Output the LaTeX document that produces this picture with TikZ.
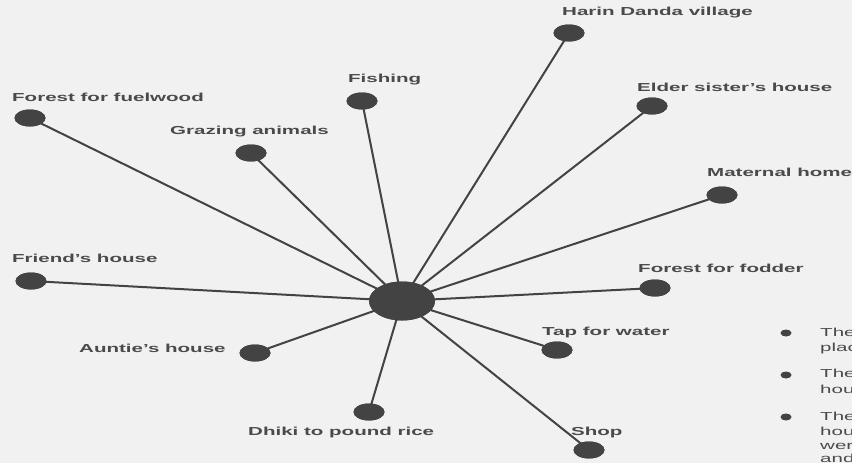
\documentclass[tikz,border=0pt]{standalone}
\usepackage{fontspec}
\setmainfont{Liberation Sans}
\usetikzlibrary{shapes.geometric}
\definecolor{bg}{HTML}{F1F1F1}
\definecolor{ink}{HTML}{434343}
\definecolor{txt}{HTML}{4A4A4A}
\tikzset{
  dot/.style={ellipse,fill=ink,draw=none,minimum width=31pt,minimum height=17pt,inner sep=0pt},
  hub/.style={ellipse,fill=ink,draw=none,minimum width=66pt,minimum height=39pt,inner sep=0pt},
  lab/.style={anchor=west,inner sep=0pt,text=txt,font=\fontsize{11.6}{13}\selectfont\bfseries},
  link/.style={draw=ink,line width=2pt},
  bul/.style={ellipse,fill=ink,draw=none,minimum width=11pt,minimum height=7pt,inner sep=0pt},
  note/.style={anchor=west,inner sep=0pt,text=txt,align=left,font=\fontsize{11.6}{15.5}\selectfont}
}
\newcommand{\wideT}[1]{\scalebox{1.77}[1]{#1}}
\begin{document}
\begin{tikzpicture}[x=1pt,y=-1pt]
\fill[bg] (0,0) rectangle (852,463);
\useasboundingbox (0,0) rectangle (852,463);
\clip (0,0) rectangle (852,463);
\node[hub] (c) at (402,301) {};
\node[dot] (harin) at (569,33) {};
\node[dot] (elder) at (652,106) {};
\node[dot] (mat) at (722,195) {};
\node[dot] (ffod) at (655,288) {};
\node[dot] (tap) at (557,350) {};
\node[dot] (shop) at (589,450) {};
\node[dot] (dhiki) at (369,412) {};
\node[dot] (aunt) at (255,353) {};
\node[dot] (friend) at (31,281) {};
\node[dot] (ffuel) at (30,118) {};
\node[dot] (graz) at (251,153) {};
\node[dot] (fish) at (362,101) {};
\foreach \n in {harin,elder,mat,ffod,tap,shop,dhiki,aunt,friend,ffuel,graz,fish}
  \draw[link] (c.center) -- (\n.center);
\node[hub] at (c) {};
\foreach \n in {harin,elder,mat,ffod,tap,shop,dhiki,aunt,friend,ffuel,graz,fish}
  \node[dot] at (\n) {};
\node[lab] (lharin) at (562,13) {\wideT{Harin Danda village}};
\node[lab] (lelder) at (637,87) {\wideT{Elder sister's house}};
\node[lab] (lmat) at (707,172) {\wideT{Maternal home}};
\node[lab] (lffod) at (638,268) {\wideT{Forest for fodder}};
\node[lab] (ltap) at (542,332) {\wideT{Tap for water}};
\node[lab] (lshop) at (571,432) {\wideT{Shop}};
\node[lab] (ldhiki) at (248,432) {\wideT{Dhiki to pound rice}};
\node[lab] (launt) at (79,348) {\wideT{Auntie's house}};
\node[lab] (lfriend) at (12,258) {\wideT{Friend's house}};
\node[lab] (lffuel) at (12,97) {\wideT{Forest for fuelwood}};
\node[lab] (lgraz) at (170,132) {\wideT{Grazing animals}};
\node[lab] (lfish) at (348,80) {\wideT{Fishing}};
\node[bul] (b1) at (786,333) {};
\node[bul] (b2) at (786,375) {};
\node[bul] (b3) at (786,417) {};
\node[note] (n1a) at (820,332) {\wideT{The}};
\node[note] (n1b) at (820,348) {\wideT{plac}};
\node[note] (n2a) at (820,373) {\wideT{The}};
\node[note] (n2b) at (820,389) {\wideT{hou}};
\node[note] (n3a) at (820,416) {\wideT{The}};
\node[note] (n3b) at (820,431) {\wideT{hou}};
\node[note] (n3c) at (820,446) {\wideT{wer}};
\node[note] (n3d) at (820,458) {\wideT{and}};
\end{tikzpicture}
\end{document}
